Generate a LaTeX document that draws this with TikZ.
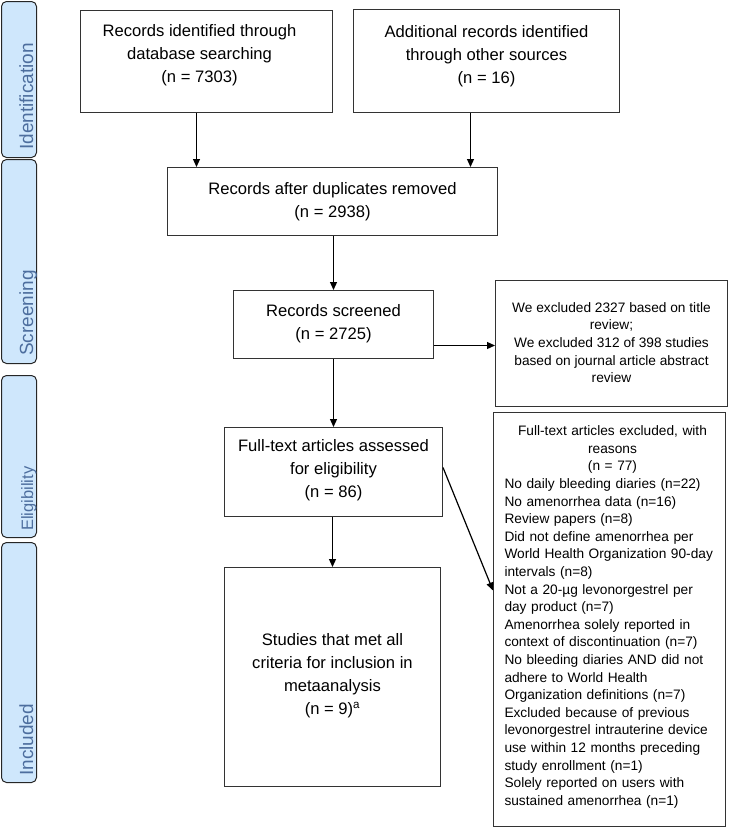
\documentclass[tikz,border=0pt]{standalone}
\usepackage{fontspec}
\setmainfont{Liberation Sans}
\usetikzlibrary{arrows.meta}
\definecolor{tabfill}{HTML}{CFE7FC}
\definecolor{tabtext}{HTML}{4D6E9E}
\definecolor{boxline}{HTML}{333333}
\setlength{\parindent}{0pt}
\begin{document}
\begin{tikzpicture}[x=1pt,y=1pt,
  box/.style={draw=boxline, line width=1pt, inner sep=0pt, anchor=north west},
  bigtxt/.style={align=center, font=\fontsize{16.6}{23}\selectfont, inner sep=0pt},
  smalltxt/.style={align=center, font=\fontsize{13.7}{17.6}\selectfont, inner sep=0pt},
  tabbox/.style={draw=black!85, fill=tabfill, rounded corners=5pt, line width=1pt, inner sep=0pt, anchor=north west, minimum width=35pt},
  tabtxt/.style={rotate=90, anchor=base west, text=tabtext, font=\fontsize{19}{19}\selectfont, inner sep=0pt},
  arr/.style={draw=black, line width=1.2pt, -{Triangle[length=8pt,width=7pt]}}]
\useasboundingbox (0,0) rectangle (728,-835);

% side tabs
\node[tabbox, minimum height=156pt] (t1) at (1,-1) {};
\node[tabbox, minimum height=204pt] (t2) at (1,-159) {};
\node[tabbox, minimum height=162pt] (t3) at (1,-375) {};
\node[tabbox, minimum height=240pt] (t4) at (1,-542) {};
\node[tabtxt] (t1l) at ([xshift=-4pt,yshift=8pt]t1.south east) {Identification};
\node[tabtxt] (t2l) at ([xshift=-4pt,yshift=8pt]t2.south east) {Screening};
\node[tabtxt, font=\fontsize{16.5}{16.5}\selectfont] (t3l) at ([xshift=-4pt,yshift=7pt]t3.south east) {Eligibility};
\node[tabtxt] (t4l) at ([xshift=-4pt,yshift=7pt]t4.south east) {Included};

% boxes
\node[box, minimum width=252pt, minimum height=102pt] (b1) at (80,-10) {};
\node[box, minimum width=266pt, minimum height=103pt] (b2) at (353,-9) {};
\node[box, minimum width=330pt, minimum height=68pt] (b3) at (167,-167) {};
\node[box, minimum width=200pt, minimum height=68pt] (b4) at (233,-290) {};
\node[box, minimum width=232pt, minimum height=126pt] (b5) at (495,-280) {};
\node[box, minimum width=218pt, minimum height=89pt] (b6) at (224,-427) {};
\node[box, minimum width=216pt, minimum height=219pt] (b7) at (224,-567) {};
\node[box, minimum width=232pt, minimum height=414pt] (b8) at (493,-412) {};

% texts
\node[bigtxt] (b1t) at ([xshift=-7pt,yshift=6pt]b1.center) {Records identified through\\database searching\\(n = 7303)};
\node[bigtxt] (b2t) at ([yshift=5pt]b2.center) {Additional records identified\\through other sources\\(n = 16)};
\node[bigtxt] (b3t) at (b3.center) {Records after duplicates removed\\(n = 2938)};
\node[bigtxt] (b4t) at ([yshift=1pt]b4.center) {Records screened\\(n = 2725)};
\node[smalltxt] (b5t) at ([yshift=1pt]b5.center) {We excluded 2327 based on title\\review;\\We excluded 312 of 398 studies\\based on journal article abstract\\review};
\node[bigtxt] (b6t) at ([yshift=1.5pt]b6.center) {Full-text articles assessed\\for eligibility\\(n = 86)};
\node[bigtxt] (b7t) at ([yshift=1pt]b7.center) {Studies that met all\\criteria for inclusion in\\metaanalysis\\(n = 9)\textsuperscript{a}};
\node[inner sep=0pt, text width=216pt, font=\fontsize{13.7}{17.6}\selectfont] (b8t) at ([xshift=3pt,yshift=2.5pt]b8.center)
 {{\centering Full-text articles excluded, with\\reasons\\(n = 77)\par}\raggedright
 No daily bleeding diaries (n=22)\\
 No amenorrhea data (n=16)\\
 Review papers (n=8)\\
 Did not define amenorrhea per\\
 World Health Organization 90-day\\
 intervals (n=8)\\
 Not a 20-µg levonorgestrel per\\
 day product (n=7)\\
 Amenorrhea solely reported in\\
 context of discontinuation (n=7)\\
 No bleeding diaries AND did not\\
 adhere to World Health\\
 Organization definitions (n=7)\\
 Excluded because of previous\\
 levonorgestrel intrauterine device\\
 use within 12 months preceding\\
 study enrollment (n=1)\\
 Solely reported on users with\\
 sustained amenorrhea (n=1)};

% arrows
\coordinate (s1) at ([xshift=-10pt]b1.south);
\coordinate (s2) at ([xshift=-16pt]b2.south);
\coordinate (s4) at ([yshift=-21pt]b4.east);
\coordinate (s6) at ([yshift=4.5pt]b6.east);
\coordinate (e8) at ([yshift=29pt]b8.west);
\draw[arr] (s1) -- (s1 |- b3.north);
\draw[arr] (s2) -- (s2 |- b3.north);
\draw[arr] (b3.south -| b4.north) -- (b4.north);
\draw[arr] (s4) -- (s4 -| b5.west);
\draw[arr] (b4.south) -- (b6.north -| b4.south);
\draw[arr] (s6) -- (e8);
\draw[arr] (b6.south -| b7.north) -- (b7.north);
\end{tikzpicture}
\end{document}
